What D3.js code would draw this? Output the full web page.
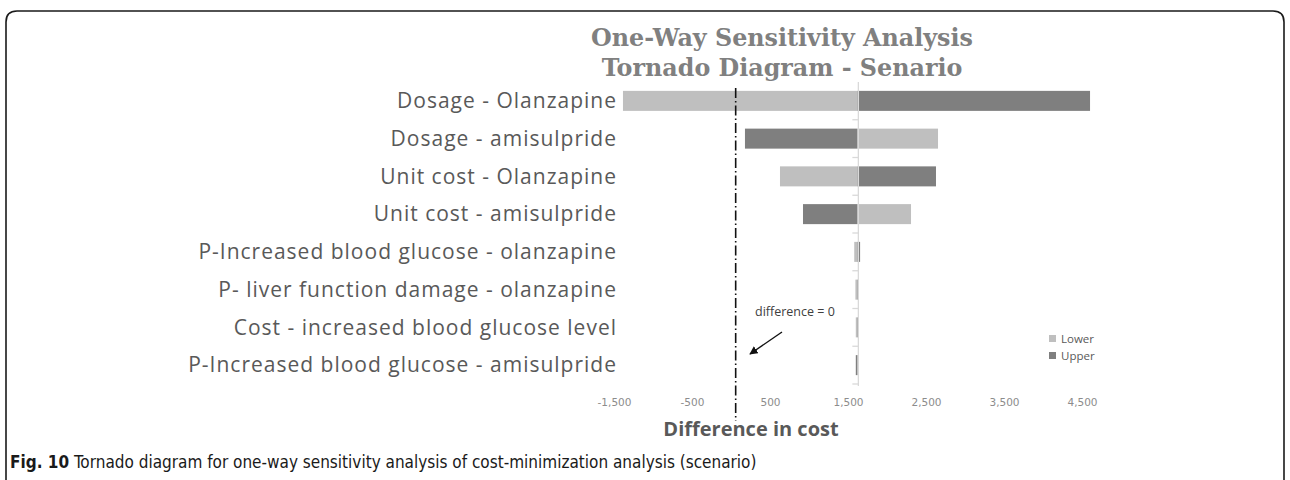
<!DOCTYPE html>
<html>
<head>
<meta charset="utf-8">
<script src="https://cdn.jsdelivr.net/npm/d3@7"></script>
<style>
  body { margin: 0; background: #fff; }
  svg { display: block; }
</style>
</head>
<body>
<svg class="tornado" width="1290" height="480"></svg>
<script>
// data
var categories = [
    "Dosage - Olanzapine",
    "Dosage - amisulpride",
    "Unit cost - Olanzapine",
    "Unit cost - amisulpride",
    "P-Increased blood glucose - olanzapine",
    "P- liver function damage - olanzapine",
    "Cost - increased blood glucose level ",
    "P-Increased blood glucose - amisulpride"
];
var baseValue = 1620;
var lowerValues = [-1385, 2654, 628, 2308, 1580, 1595, 1600, 1620];
var upperValues = [4603, 179, 2628, 923, 1655, 1620, 1620, 1600];
var tickValues = [-1500, -500, 500, 1500, 2500, 3500, 4500];
var refValue = 60;

var lightGrey = "#bfbfbf", darkGrey = "#7f7f7f";

var svg = d3.select(".tornado");

// figure frame with rounded corners
svg.append("path")
    .attr("d", "M6,480 V22 Q6,11 17,11 H1273 Q1284,11 1284,22 V480")
    .attr("fill", "none")
    .attr("stroke", "#1a1a1a")
    .attr("stroke-width", 1.6);

var x = d3.scaleLinear().domain([-1500, 4500]).range([614, 1082]);
var y = d3.scaleBand().domain(categories).range([82, 384]).paddingInner(0.47).paddingOuter(0.235);

// title
var title = svg.append("text")
    .attr("text-anchor", "middle")
    .style("font-family", "'DejaVu Serif', serif")
    .style("font-weight", "bold")
    .style("font-size", "23.8px")
    .style("fill", "#808080");
title.append("tspan").attr("x", 782).attr("y", 46).text("One-Way Sensitivity Analysis");
title.append("tspan").attr("x", 782).attr("y", 76).text("Tornado Diagram - Senario");

// bars
var rows = categories.map(function(c, i) {
    return {cat: c, lower: lowerValues[i], upper: upperValues[i]};
});

function addBars(key, colour) {
    svg.selectAll(".bar-" + key).data(rows)
        .enter().append("rect")
        .attr("class", "bar-" + key)
        .attr("x", d => Math.min(x(baseValue), x(d[key])))
        .attr("y", d => y(d.cat))
        .attr("width", d => Math.max(1.5, Math.abs(x(d[key]) - x(baseValue))))
        .attr("height", y.bandwidth())
        .style("fill", colour);
}
addBars("lower", lightGrey);
addBars("upper", darkGrey);

// category axis at the base value
var step = y.step();
svg.append("line")
    .attr("x1", x(baseValue) + 1).attr("x2", x(baseValue) + 1)
    .attr("y1", 82).attr("y2", 386)
    .style("stroke", "#d9d9d9").style("stroke-width", 1.3);
svg.selectAll(".cat-tick").data(categories)
    .enter().append("line")
    .attr("class", "cat-tick")
    .attr("x1", x(baseValue) - 5).attr("x2", x(baseValue) + 1)
    .attr("y1", d => y(d) - y.paddingOuter() * step + step)
    .attr("y2", d => y(d) - y.paddingOuter() * step + step)
    .style("stroke", "#d9d9d9").style("stroke-width", 1.3);

// category labels
svg.selectAll(".cat-label").data(categories)
    .enter().append("text")
    .attr("class", "cat-label")
    .attr("x", 617)
    .attr("y", d => y(d) + y.bandwidth() / 2)
    .attr("dy", "0.35em")
    .attr("text-anchor", "end")
    .style("font-family", "'Open Sans', sans-serif")
    .style("font-size", "21px")
    .style("letter-spacing", "1px")
    .style("fill", "#595959")
    .text(d => d);

// x axis labels (no axis line)
var fmt = d3.format(",");
var xAxis = d3.axisBottom(x).tickValues(tickValues).tickSize(0)
    .tickFormat(d => fmt(d).replace("\u2212", "-"));
var gx = svg.append("g").attr("transform", "translate(0,396)").call(xAxis);
gx.select(".domain").remove();
gx.selectAll("text")
    .style("font-family", "'Liberation Sans Narrow', 'DejaVu Sans', sans-serif")
    .style("font-size", "10.5px")
    .style("fill", "#8c8c8c");

svg.append("text")
    .attr("x", 751).attr("y", 436)
    .attr("text-anchor", "middle")
    .style("font-family", "'Open Sans', sans-serif")
    .style("font-weight", "bold")
    .style("font-size", "20px")
    .style("fill", "#595959")
    .text("Difference in cost");

// reference line: difference = 0
svg.append("line")
    .attr("x1", x(refValue)).attr("x2", x(refValue))
    .attr("y1", 88).attr("y2", 421)
    .style("stroke", "#111")
    .style("stroke-width", 1.6)
    .style("stroke-dasharray", "10,3,1.5,3");

svg.append("defs").append("marker")
    .attr("id", "arrow")
    .attr("viewBox", "0 0 10 10")
    .attr("refX", 9).attr("refY", 5)
    .attr("markerWidth", 6).attr("markerHeight", 6)
    .attr("orient", "auto")
    .append("path").attr("d", "M0,0 L10,5 L0,10 Z").attr("fill", "#111");

svg.append("line")
    .attr("x1", 782).attr("y1", 332)
    .attr("x2", 750).attr("y2", 354)
    .style("stroke", "#111").style("stroke-width", 1.4)
    .attr("marker-end", "url(#arrow)");

svg.append("text")
    .attr("x", 755).attr("y", 316)
    .style("font-family", "'Open Sans', sans-serif")
    .style("font-size", "12.5px")
    .style("fill", "#404040")
    .text("difference = 0");

// legend
var legend = svg.append("g").attr("transform", "translate(1049,335)");
[["Lower", lightGrey], ["Upper", darkGrey]].forEach(function(l, i) {
    legend.append("rect").attr("x", 0).attr("y", i * 17).attr("width", 7).attr("height", 7).style("fill", l[1]);
    legend.append("text").attr("x", 12).attr("y", i * 17 + 7.5)
        .style("font-family", "'Open Sans', sans-serif")
        .style("font-size", "11.5px")
        .style("fill", "#595959")
        .text(l[0]);
});

// caption
var cap = svg.append("text")
    .attr("x", 10).attr("y", 468)
    .style("font-family", "'Liberation Sans Narrow', 'DejaVu Sans Condensed', sans-serif")
    .style("font-size", "17px")
    .style("fill", "#1a1a1a");
cap.append("tspan").style("font-weight", "bold").text("Fig. 10");
cap.append("tspan").text(" Tornado diagram for one-way sensitivity analysis of cost-minimization analysis (scenario)");
</script>
</body>
</html>
